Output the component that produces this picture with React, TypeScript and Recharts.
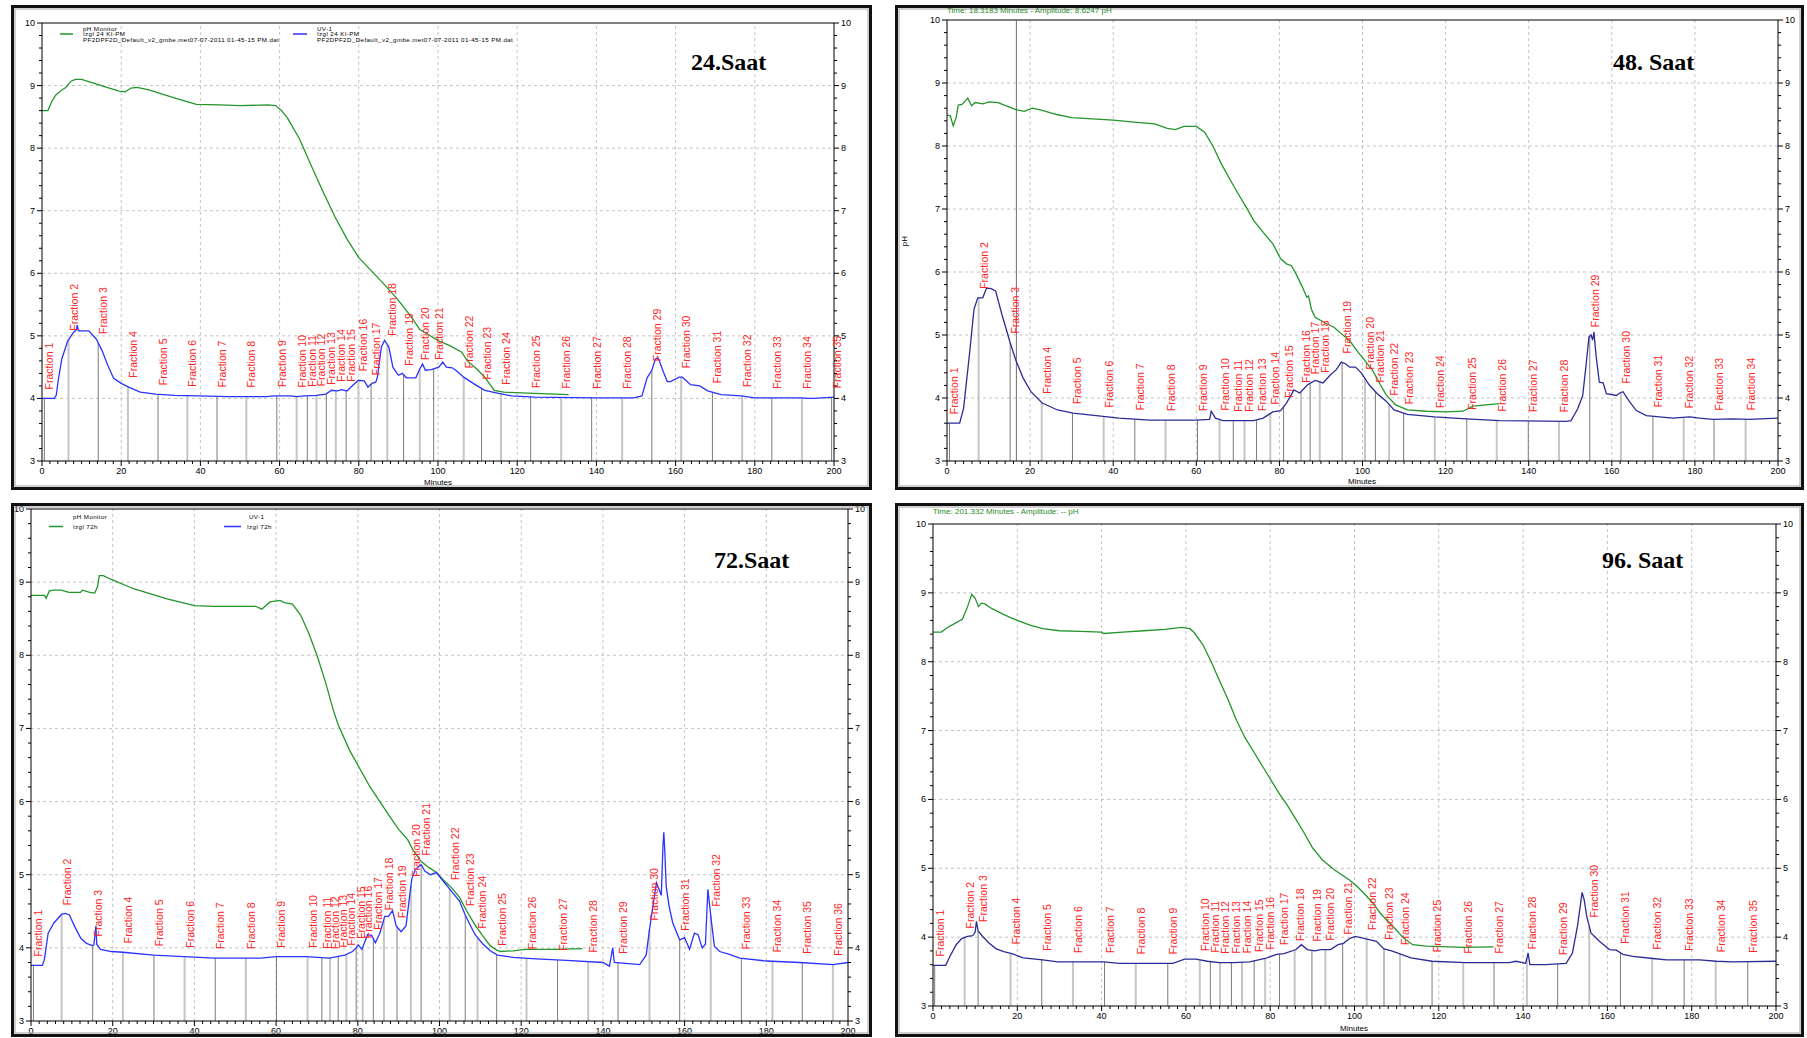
import React from 'react'
import { ComposedChart, Line, XAxis, YAxis, ReferenceLine, ReferenceDot } from 'recharts'

type Pt = [number, number]

// ---- 24 Saat ----
const ph24: Pt[] = [
  [0, 8.6], [1.5, 8.6], [2.5, 8.75], [3.5, 8.85], [5, 8.93], [6, 8.97], [7.3, 9.07], [8.5, 9.1], [10, 9.1],
  [12, 9.06], [14, 9.02], [17, 8.96], [19.5, 8.91], [21, 8.9], [22.5, 8.96], [24, 8.97], [27, 8.93], [30, 8.87],
  [34, 8.79], [39, 8.7], [45, 8.69], [50, 8.68], [57, 8.69], [59, 8.68], [60.5, 8.6], [62, 8.48], [65, 8.15],
  [68, 7.72], [71, 7.3], [74, 6.9], [77, 6.55], [80, 6.25], [83, 6.05], [86, 5.85], [89.6, 5.6], [93.4, 5.29],
  [95.4, 5.1], [97.3, 5.03], [100.2, 4.92], [103.1, 4.84], [106, 4.74], [107.4, 4.6], [109.8, 4.47],
  [111.8, 4.34], [114.2, 4.13], [116.6, 4.1], [124.4, 4.08], [133, 4.06],
]
const uv24: Pt[] = [
  [0, 4.0], [3.1, 4.0], [3.6, 4.05], [4.1, 4.29], [5, 4.63], [6.5, 4.92], [7.9, 5.05], [8.7, 5.1], [8.9, 5.17],
  [9.2, 5.08], [9.9, 5.08], [11.8, 5.08], [13.7, 4.95], [15.2, 4.76], [16.6, 4.53], [18.1, 4.32], [20, 4.24],
  [21.9, 4.18], [24.8, 4.1], [28.7, 4.07], [33.5, 4.05], [39.3, 4.04], [47, 4.03], [56.7, 4.03], [58.6, 4.04],
  [62.5, 4.04], [64.4, 4.03], [66.4, 4.04], [69.3, 4.05], [71.7, 4.07], [73.1, 4.13], [74.6, 4.12], [75.6, 4.14],
  [77, 4.12], [78.5, 4.21], [79.9, 4.29], [81.4, 4.28], [82.3, 4.18], [83.3, 4.24], [84.3, 4.26], [84.7, 4.34],
  [85.7, 4.82], [86.5, 4.93], [87.6, 4.82], [88.6, 4.5], [90, 4.37], [91, 4.4], [92, 4.33], [94.4, 4.33],
  [95.4, 4.47], [96.1, 4.55], [96.8, 4.45], [98.3, 4.46], [100.2, 4.5], [101.2, 4.58], [102.1, 4.5],
  [103.6, 4.49], [104.5, 4.45], [106.5, 4.34], [108.9, 4.24], [111.8, 4.13], [114.7, 4.09], [118.6, 4.04],
  [124.4, 4.02], [140, 4.01], [149.4, 4.01], [151.5, 4.04], [152.8, 4.33], [154, 4.45], [154.9, 4.63],
  [155.6, 4.65], [157, 4.41], [157.9, 4.27], [158.7, 4.27], [160.9, 4.34], [161.7, 4.34], [163.8, 4.22],
  [166.1, 4.2], [168.1, 4.12], [171.5, 4.06], [176.6, 4.04], [180, 4.01], [191.9, 4.01], [193.6, 4.0],
  [194.9, 4.0], [200, 4.02],
]
const frac24 = [
  0.6, 6.7, 14.2, 21.7, 29.3, 36.7, 44.2, 51.6, 59.3, 64.3, 67, 69.3, 71.8, 74.2, 76.8, 79.9, 83.1, 87.2,
  91.3, 95.4, 98.9, 106.5, 111, 115.9, 123.4, 131.1, 138.8, 146.5, 154, 161.4, 169.3, 176.8, 184.3, 191.9, 199.4,
]

// ---- 48 Saat ----
const ph48: Pt[] = [
  [0, 8.49], [0.8, 8.48], [1.5, 8.32], [2.2, 8.45], [2.7, 8.65], [3.6, 8.66], [5, 8.76], [5.9, 8.64], [6.8, 8.69],
  [8.6, 8.67], [10.2, 8.7],
  [12.3, 8.69], [16.4, 8.58], [18.6, 8.55], [20.5, 8.6], [22.7, 8.57], [26.4, 8.5], [30, 8.45], [35, 8.43],
  [40, 8.41], [45, 8.38], [50, 8.35], [53, 8.28], [55, 8.26], [57, 8.31], [60, 8.31], [62, 8.22], [64, 8.0],
  [66, 7.72], [68, 7.48], [70, 7.25], [72, 7.03], [73.8, 6.82], [76.1, 6.63], [78.4, 6.45], [80.3, 6.21],
  [81.7, 6.13], [82.9, 6.1], [84, 5.97], [85.4, 5.78], [86.6, 5.6], [87, 5.62], [87.7, 5.41], [88.6, 5.28],
  [90.5, 5.21], [93.2, 5.12], [95.1, 5.01], [97, 4.9], [98.8, 4.74], [100.6, 4.59], [102.5, 4.43],
  [104.3, 4.21], [105.7, 4.05], [108, 3.89], [110.8, 3.81], [115.4, 3.79], [120, 3.78], [124.2, 3.79],
  [126.6, 3.87], [131, 3.9], [133, 3.91],
]
const uv48: Pt[] = [
  [0, 3.6], [3.05, 3.6], [4, 3.84], [5.4, 4.69], [6.5, 5.41], [7.4, 5.59], [8.6, 5.59], [9.5, 5.74], [10.5, 5.74],
  [11.7, 5.7], [13.2, 5.33], [15.1, 4.9], [16.5, 4.61], [18.3, 4.32], [20.2, 4.1], [22.9, 3.92], [26.6, 3.81],
  [30.3, 3.76], [35.9, 3.72], [41.4, 3.68], [48.8, 3.65], [59.9, 3.65], [63.2, 3.66], [63.6, 3.79], [64.6, 3.68],
  [66.4, 3.64], [73.8, 3.64], [76.1, 3.68], [78.4, 3.78], [80.3, 3.8], [81.7, 3.92], [83.5, 4.13], [84.9, 4.08],
  [86.8, 4.21], [88.6, 4.28], [90.5, 4.24], [92.3, 4.37], [93.7, 4.45], [94.9, 4.57], [96, 4.54], [96.9, 4.49],
  [98.3, 4.49], [99.7, 4.4], [101.6, 4.21], [103.4, 4.08], [105.7, 3.95], [107.6, 3.81], [110.8, 3.74],
  [117.3, 3.7], [125, 3.67], [133, 3.64], [149, 3.63], [150.2, 3.64], [151.8, 3.83], [153, 4.04], [153.8, 4.52],
  [154.5, 4.97], [155, 5.0], [155.4, 4.92], [155.7, 5.05], [156.2, 4.68], [157, 4.25], [157.9, 4.24],
  [158.7, 4.07], [161.1, 4.04], [161.9, 4.08], [162.7, 4.1], [164.3, 3.94], [165.9, 3.8], [168.3, 3.72],
  [171.5, 3.7], [174.7, 3.68], [178.7, 3.7], [181.1, 3.68], [184.3, 3.66], [189.1, 3.67], [193.1, 3.66], [200, 3.68],
]
const frac48 = [
  0.6, 7.6, 15.2, 22.8, 30.2, 37.7, 45.2, 52.6, 60.3, 65.6, 68.9, 71.6, 74.5, 77.8, 81, 85.2, 87.4, 89.7, 95.1,
  100.6, 103.1, 106.4, 109.9, 117.4, 125.1, 132.3, 139.9, 147.3, 154.7, 162.2, 169.9, 177.3, 184.6, 192.2,
]

// ---- 72 Saat ----
const ph72: Pt[] = [
  [0, 8.82], [3.3, 8.82], [3.7, 8.78], [4.5, 8.88], [5.6, 8.89], [7.4, 8.89], [9.3, 8.86], [12.1, 8.86],
  [12.6, 8.89], [14.4, 8.86], [15.6, 8.85], [16.3, 8.94], [16.7, 9.09], [17.7, 9.09], [19.5, 9.04], [25.1, 8.91],
  [33.3, 8.77], [40, 8.68], [45, 8.67], [55, 8.67], [56.5, 8.63], [58.5, 8.73], [61, 8.75], [62, 8.72], [64, 8.7],
  [66, 8.55], [68, 8.3], [70, 8.0], [72, 7.65], [74, 7.25], [75.2, 7.05], [78, 6.7], [80, 6.5], [83, 6.2],
  [85.4, 6.0], [88, 5.78], [90, 5.62], [92.2, 5.48], [93.6, 5.33], [94.5, 5.26], [95.5, 5.18], [97.4, 5.1],
  [99.3, 5.03], [101.1, 4.92], [103, 4.82], [104.9, 4.69], [106.7, 4.5], [108.6, 4.32], [110.5, 4.17],
  [112.4, 4.03], [114, 3.97], [115, 3.95], [118, 3.96], [121, 3.98], [128, 3.98], [135, 3.99],
]
const uv72: Pt[] = [
  [0, 3.76], [2.8, 3.76], [3.3, 3.85], [4.2, 4.2], [5.6, 4.34], [7.5, 4.46], [8.4, 4.47], [9.4, 4.45],
  [10.8, 4.28], [12.2, 4.13], [13.6, 4.06], [15, 4.03], [15.4, 4.04], [15.9, 4.3], [16.1, 4.05], [17, 3.98],
  [19.7, 3.95], [22.5, 3.94], [30, 3.9], [37.5, 3.88], [44.9, 3.86], [56.2, 3.86], [60, 3.88], [67.4, 3.88],
  [73, 3.86], [74.9, 3.88], [76.8, 3.9], [78.7, 3.95], [79.6, 4.0], [80.1, 4.04], [81, 3.98], [82.4, 4.18],
  [83.4, 4.17], [84.3, 4.07], [85.4, 4.2], [86.6, 4.43], [87.5, 4.43], [88.5, 4.51], [89.4, 4.3], [90.6, 4.22],
  [91.8, 4.3], [93.2, 4.94], [94.1, 5.07], [95.5, 5.14], [96.4, 5.05], [97.8, 5.0], [99.2, 5.03], [101.1, 4.9],
  [103, 4.77], [104.9, 4.64], [106.3, 4.45], [108.6, 4.19], [110.5, 4.06], [112.4, 3.96], [114.2, 3.9],
  [118, 3.87], [123.6, 3.85], [131.1, 3.83], [140, 3.8], [141.6, 3.75], [142.4, 4.0], [142.8, 3.8], [149, 3.77],
  [150.6, 3.9], [151.4, 4.25], [153.1, 4.89], [154.3, 4.72], [154.7, 5.39], [154.9, 5.58], [155.1, 5.39],
  [155.5, 4.84], [156.2, 4.57], [157.1, 4.34], [158.8, 4.11], [160, 4.14], [161.2, 3.98], [162.4, 4.2],
  [163.3, 4.18], [164.3, 4.0], [165.1, 4.05], [165.7, 4.8], [166.5, 4.39], [167.3, 4.02], [168.6, 3.95],
  [171, 3.91], [173.5, 3.86], [180, 3.82], [188.2, 3.8], [196.3, 3.77], [200, 3.8],
]
const frac72 = [
  0.6, 7.5, 15.1, 22.5, 30.1, 37.6, 45.1, 52.6, 60.1, 67.7, 71.2, 73.2, 75.2, 77.2, 79.6, 81.2, 83.8, 86.4,
  89.6, 93, 95.5, 102.5, 106.3, 109.3, 114, 121.3, 128.9, 136.4, 143.7, 151.4, 158.8, 166.4, 173.9, 181.5,
  188.8, 196.3,
]

// ---- 96 Saat ----
const ph96: Pt[] = [
  [0, 8.43], [2, 8.43], [3.5, 8.5], [5, 8.55], [7, 8.62], [8.2, 8.8], [9.2, 8.98], [10, 8.92], [10.8, 8.8],
  [11.5, 8.85], [12.3, 8.84], [14, 8.77], [16, 8.71], [18, 8.65], [20, 8.6], [23, 8.53], [26, 8.48], [30, 8.45],
  [35, 8.44], [40, 8.43], [40.5, 8.41], [45, 8.43], [50, 8.45], [55, 8.47], [59, 8.5], [61, 8.48], [62, 8.42],
  [64, 8.25], [66, 8.0], [68, 7.72], [70, 7.45], [72, 7.15], [74, 6.9], [76, 6.7], [78, 6.5], [80, 6.3], [82, 6.1],
  [84, 5.92], [86, 5.72], [88, 5.52], [90, 5.3], [92.4, 5.12], [95.2, 4.98], [98.8, 4.83], [100.6, 4.74],
  [102.5, 4.62], [104.3, 4.5], [106.1, 4.35], [107.9, 4.23], [109.8, 4.11], [111.6, 3.99], [113.8, 3.89],
  [117, 3.87], [122.4, 3.86], [126, 3.85], [133, 3.86],
]
const uv96: Pt[] = [
  [0, 3.59], [3, 3.59], [4.1, 3.73], [5.5, 3.89], [6.8, 3.98], [8.2, 4.01], [9.4, 4.02], [10, 4.07], [10.3, 4.23],
  [10.7, 4.09], [11.8, 4.01], [13.2, 3.92], [15, 3.83], [16.8, 3.79], [18.7, 3.76], [21.4, 3.7], [26, 3.67],
  [29.6, 3.64], [40.5, 3.64], [44.2, 3.62], [56.9, 3.62], [59.7, 3.68], [62.4, 3.68], [65.1, 3.65], [67.9, 3.63],
  [71.5, 3.63], [75.1, 3.64], [78.8, 3.69], [81.5, 3.75], [83.3, 3.76], [86.1, 3.82], [87.4, 3.89], [88.8, 3.82],
  [90.6, 3.8], [92, 3.82], [94.3, 3.82], [96.1, 3.89], [97.4, 3.91], [98.8, 3.98], [100.2, 4.01], [102.5, 3.98],
  [105.2, 3.94], [107, 3.83], [108.8, 3.8], [111.1, 3.75], [113.4, 3.7], [118.4, 3.65], [126.3, 3.63],
  [136.7, 3.63], [138.3, 3.65], [140.6, 3.62], [141.2, 3.77], [141.6, 3.6], [145.4, 3.6], [150.2, 3.62],
  [151.7, 3.77], [152.9, 4.16], [154, 4.65], [154.5, 4.54], [155.1, 4.3], [156.1, 4.06], [158.1, 3.94],
  [160.5, 3.82], [162.1, 3.81], [163.7, 3.75], [166, 3.72], [170.8, 3.69], [174, 3.67], [181.9, 3.67],
  [185.9, 3.65], [189.8, 3.64], [200, 3.65],
]
const frac96 = [
  0.4, 7.5, 10.7, 18.4, 25.8, 33.2, 40.7, 48.1, 55.7, 63.3, 65.8, 68.1, 70.8, 73.3, 76.2, 78.8, 82.2, 85.8,
  89.9, 93.1, 97.2, 102.9, 107, 110.8, 118.4, 125.8, 133.1, 140.9, 148.2, 155.7, 163.1, 170.6, 178.2, 185.7, 193.3,
]

const xMajor = [0, 20, 40, 60, 80, 100, 120, 140, 160, 180, 200]
const yMajor = [3, 4, 5, 6, 7, 8, 9, 10]
const xTicks = Array.from({ length: 101 }, (_, i) => i * 2)
const yTicks = Array.from({ length: 36 }, (_, i) => Math.round((3 + i * 0.2) * 10) / 10)

const FONT = '"Liberation Sans", Arial, sans-serif'
const GREEN = '#23952a'
const RED = '#ff2424'
const AXW = 12 // axis band width (y axes) / height (x axis)

function uvAt(series: Pt[], t: number) {
  for (let i = 1; i < series.length; i++) {
    const [t0, v0] = series[i - 1]
    const [t1, v1] = series[i]
    if (t >= t0 && t <= t1) return v0 + ((v1 - v0) * (t - t0)) / (t1 - t0)
  }
  return series[series.length - 1][1]
}

function XTick(props: any) {
  const { x, y, payload } = props
  const v = payload.value
  const major = v % 20 === 0
  return (
    <g>
      <line x1={x} x2={x} y1={y} y2={y + (major ? 5 : 3)} stroke="#000" />
      {major && (
        <text x={x} y={y + 12.5} textAnchor="middle" fontSize={9} fontFamily={FONT} fill="#000">
          {v}
        </text>
      )}
    </g>
  )
}

function YTick(props: any, side: 'left' | 'right') {
  const { x, y, payload } = props
  const v = payload.value
  const major = Number.isInteger(v)
  const s = side === 'left' ? -1 : 1
  return (
    <g>
      <line x1={x} x2={x + s * (major ? 5 : 3)} y1={y} y2={y} stroke="#000" />
      {major && (
        <text x={x + s * 7} y={y + 3} textAnchor={side === 'left' ? 'end' : 'start'} fontSize={9} fontFamily={FONT} fill="#000">
          {v}
        </text>
      )}
    </g>
  )
}

interface Box { x: number; y: number; w: number; h: number }
interface Plot { l: number; t: number; r: number; b: number }

interface PanelProps {
  box: Box
  plot: Plot
  ph: Pt[]
  uv: Pt[]
  fractions: number[]
  uvColor: string
  cursor?: number
}

function Panel({ box, plot, ph, uv, fractions, uvColor, cursor }: PanelProps) {
  const phData = ph.map(([t, v]) => ({ t, v }))
  const uvData = uv.map(([t, v]) => ({ t, v }))
  const margin = {
    top: plot.t - box.y,
    left: plot.l - box.x - AXW,
    right: box.x + box.w - plot.r - AXW,
    bottom: box.y + box.h - plot.b - AXW,
  }
  return (
    <div style={{ position: 'absolute', left: box.x, top: box.y }}>
      <ComposedChart width={box.w} height={box.h} margin={margin}>
        <XAxis
          type="number"
          dataKey="t"
          domain={[0, 200]}
          allowDataOverflow
          ticks={xTicks}
          interval={0}
          height={AXW}
          tickSize={0}
          tickMargin={0}
          tickLine={false}
          axisLine={{ stroke: '#000' }}
          tick={(p: any) => <XTick {...p} />}
        />
        <YAxis
          type="number"
          domain={[3, 10]}
          allowDataOverflow
          ticks={yTicks}
          interval={0}
          width={AXW}
          tickSize={0}
          tickMargin={0}
          tickLine={false}
          axisLine={{ stroke: '#000' }}
          tick={(p: any) => YTick(p, 'left')}
        />
        <YAxis
          yAxisId="r"
          orientation="right"
          type="number"
          domain={[3, 10]}
          allowDataOverflow
          ticks={yTicks}
          interval={0}
          width={AXW}
          tickSize={0}
          tickMargin={0}
          tickLine={false}
          axisLine={{ stroke: '#000' }}
          tick={(p: any) => YTick(p, 'right')}
        />
        {xMajor.slice(1, -1).map((x) => (
          <ReferenceLine key={'gx' + x} x={x} stroke="#c4c4c4" strokeDasharray="3 3" />
        ))}
        {yMajor.slice(1, -1).map((y) => (
          <ReferenceLine key={'gy' + y} y={y} stroke="#c4c4c4" strokeDasharray="3 3" />
        ))}
        <ReferenceLine y={10} stroke="#000" />
        {cursor !== undefined && <ReferenceLine x={cursor} stroke="#6e6e6e" />}
        {fractions.map((t, i) => (
          <ReferenceLine
            key={'f' + i}
            segment={[{ x: t, y: 3 }, { x: t, y: uvAt(uv, t) }]}
            stroke={i % 2 === 1 ? '#c6c6c6' : '#7c7c7c'}
            strokeWidth={i % 2 === 1 ? 2 : 1}
          />
        ))}
        <Line data={phData} dataKey="v" type="linear" stroke={GREEN} strokeWidth={1.3} dot={false} isAnimationActive={false} />
        <Line data={uvData} dataKey="v" type="linear" stroke={uvColor} strokeWidth={1.3} dot={false} isAnimationActive={false} />
        {fractions.map((t, i) => (
          <ReferenceDot
            key={'fl' + i}
            x={t}
            y={uvAt(uv, t)}
            r={0}
            ifOverflow="visible"
            shape={(p: any) => {
              const tx = p.cx + 9
              const ty = p.cy - 9
              return (
                <text x={tx} y={ty} transform={`rotate(-90 ${tx} ${ty})`} fill={RED} fontSize={10.5} fontFamily={FONT}>
                  {`Fraction ${i + 1}`}
                </text>
              )
            }}
          />
        ))}
      </ComposedChart>
    </div>
  )
}

const FILE = 'PF2DPF2D_Default_v2_gmbe.met07-07-2011 01-45-15 PM.dat'

export default function App() {
  const boxes: Box[] = [
    { x: 11, y: 5, w: 861, h: 485 },
    { x: 895, y: 5, w: 909, h: 485 },
    { x: 11, y: 503, w: 861, h: 534 },
    { x: 895, y: 503, w: 909, h: 534 },
  ]
  const small = { fontSize: 6.2, letterSpacing: 0.4, fontFamily: FONT, fill: '#000' }
  const title = { fontSize: 24, fontFamily: '"Liberation Serif", "Times New Roman", serif', fontWeight: 700, fill: '#000' }
  return (
    <div style={{ position: 'relative', width: 1807, height: 1038, background: '#fff', overflow: 'hidden' }}>
      <style>{'body{margin:0}'}</style>
      <Panel box={boxes[0]} plot={{ l: 42, t: 23, r: 834, b: 461 }} ph={ph24} uv={uv24} fractions={frac24} uvColor="#2b33ff" />
      <Panel box={boxes[1]} plot={{ l: 947, t: 20, r: 1778, b: 461 }} ph={ph48} uv={uv48} fractions={frac48} uvColor="#2c2c96" cursor={16.7} />
      <Panel box={boxes[2]} plot={{ l: 31, t: 509, r: 848, b: 1021 }} ph={ph72} uv={uv72} fractions={frac72} uvColor="#2b33ff" />
      <Panel box={boxes[3]} plot={{ l: 933, t: 524, r: 1776, b: 1006 }} ph={ph96} uv={uv96} fractions={frac96} uvColor="#2c2c96" />
      <svg width={1807} height={1038} style={{ position: 'absolute', left: 0, top: 0, pointerEvents: 'none' }}>
        {boxes.map((b, i) => (
          <g key={i}>
            <rect x={b.x + 1.5} y={b.y + 1.5} width={b.w - 3} height={b.h - 3} fill="none" stroke="#111" strokeWidth={3} />
            <rect x={b.x + 4} y={b.y + 4} width={b.w - 8} height={b.h - 8} fill="none" stroke="#a0a0a0" strokeWidth={1} />
          </g>
        ))}
        {/* panel 1 legend */}
        <text x={83} y={30.5} {...small}>pH Monitor</text>
        <line x1={60} x2={73} y1={34} y2={34} stroke={GREEN} strokeWidth={1.5} />
        <text x={83} y={36.3} {...small}>Izgl 24 KI-PM</text>
        <text x={83} y={42} {...small}>{FILE}</text>
        <text x={317} y={30.5} {...small}>UV-1</text>
        <line x1={293} x2={307} y1={34} y2={34} stroke="#2b33ff" strokeWidth={1.5} />
        <text x={317} y={36.3} {...small}>Izgl 24 KI-PM</text>
        <text x={317} y={42} {...small}>{FILE}</text>
        {/* panel 3 legend */}
        <text x={73} y={518.5} {...small}>pH Monitor</text>
        <line x1={49} x2={63} y1={526.5} y2={526.5} stroke={GREEN} strokeWidth={1.5} />
        <text x={73} y={528.5} {...small}>Izgl 72h</text>
        <text x={249} y={518.5} {...small}>UV-1</text>
        <line x1={224} x2={241} y1={526.5} y2={526.5} stroke="#2b33ff" strokeWidth={1.5} />
        <text x={247} y={528.5} {...small}>Izgl 72h</text>
        {/* headers */}
        <text x={947} y={13} fontSize={8} fontFamily={FONT} fill="#2a8a2a">Time:  18.3183 Minutes - Amplitude:  8.6247 pH</text>
        <text x={933} y={514} fontSize={8} fontFamily={FONT} fill="#2a8a2a">Time:  201.332 Minutes - Amplitude:  -- pH</text>
        <text x={907} y={241} fontSize={8} fontFamily={FONT} transform="rotate(-90 907 241)" textAnchor="middle">pH</text>
        {/* axis titles */}
        <text x={438} y={485} fontSize={8} fontFamily={FONT} textAnchor="middle">Minutes</text>
        <text x={1362} y={484} fontSize={8} fontFamily={FONT} textAnchor="middle">Minutes</text>
        <text x={1354} y={1031} fontSize={8} fontFamily={FONT} textAnchor="middle">Minutes</text>
        {/* titles */}
        <text x={691} y={70} {...title}>24.Saat</text>
        <text x={1613} y={70} {...title}>48. Saat</text>
        <text x={714} y={568} {...title}>72.Saat</text>
        <text x={1602} y={568} {...title}>96. Saat</text>
      </svg>
    </div>
  )
}
